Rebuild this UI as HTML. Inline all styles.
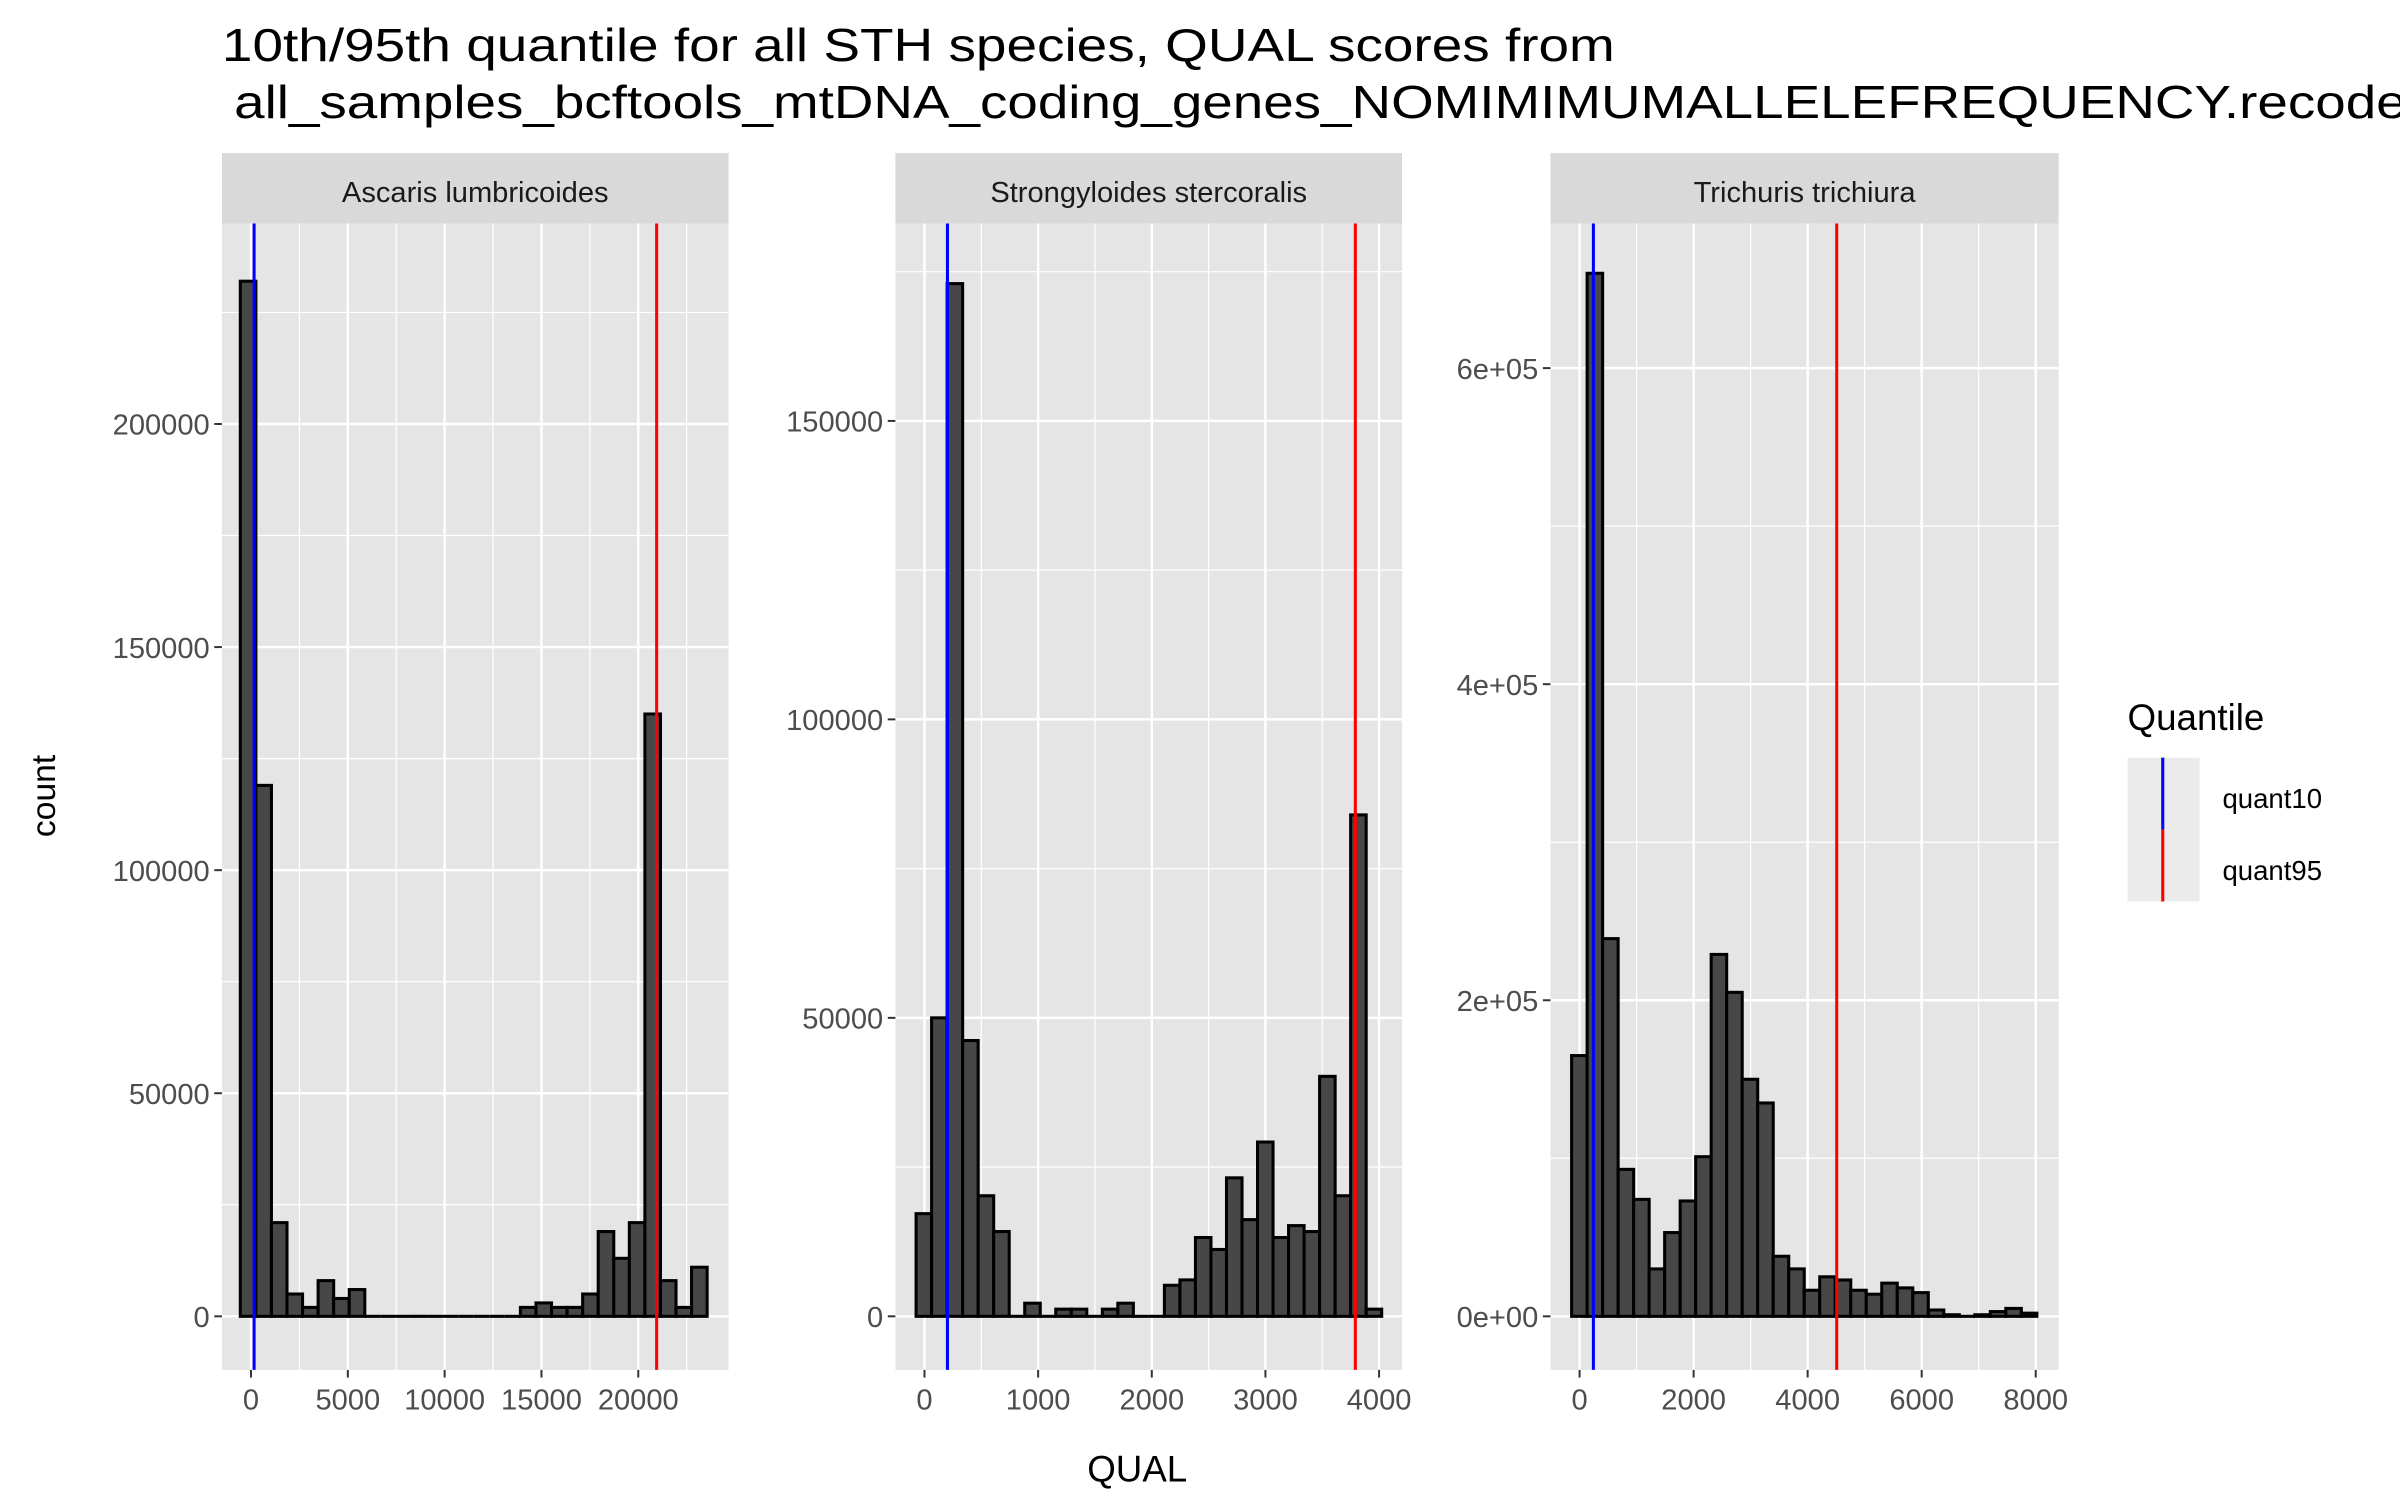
<!DOCTYPE html>
<html><head><meta charset="utf-8"><style>
html,body{margin:0;padding:0;background:#fff;}
svg{display:block;font-family:"Liberation Sans",Arial,sans-serif;}
</style></head>
<body>
<svg id="chart" width="2400" height="1500" viewBox="0 0 1568 980" preserveAspectRatio="none" xmlns="http://www.w3.org/2000/svg">
<text x="145" y="40" font-size="30" fill="#000" textLength="910" lengthAdjust="spacingAndGlyphs">10th/95th quantile for all STH species, QUAL scores from</text>
<text x="153" y="77" font-size="30" fill="#000" textLength="1475" lengthAdjust="spacingAndGlyphs">all_samples_bcftools_mtDNA_coding_genes_NOMIMIMUMALLELEFREQUENCY.recode.vcf</text>
<g id="panels"></g>
<text transform="translate(36,520) rotate(-90)" text-anchor="middle" font-size="22" fill="#000">count</text>
<text x="743" y="968" text-anchor="middle" font-size="24" fill="#000">QUAL</text>
<g>
<text x="1390" y="477" font-size="24" fill="#000">Quantile</text>
<rect x="1390" y="495" width="47" height="47" fill="#ebebeb"/>
<rect x="1390" y="542" width="47" height="47" fill="#ebebeb"/>
<line x1="1413" y1="495" x2="1413" y2="542" stroke="#0000ff" stroke-width="2"/>
<line x1="1413" y1="542" x2="1413" y2="589" stroke="#ff0000" stroke-width="2"/>
<text x="1452" y="528" font-size="18" fill="#000">quant10</text>
<text x="1452" y="575" font-size="18" fill="#000">quant95</text>
</g>
</svg>
<script>
const speciesNames = ["Ascaris lumbricoides", "Strongyloides stercoralis", "Trichuris trichiura"];
const ascarisCounts = [232000,119000,21000,5000,2000,8000,4000,6000,0,0,0,0,0,0,0,0,0,0,2000,3000,2000,2000,5000,19000,13000,21000,135000,8000,2000,11000];
const strongyCounts = [17200,50000,173000,46200,20200,14200,0,2200,0,1200,1200,0,1200,2200,0,0,5200,6100,13200,11200,23200,16200,29200,13200,15200,14200,40200,20200,84000,1200];
const trichurisCounts = [165000,660000,239000,93000,74000,30000,53000,73000,101000,229000,205000,150000,135000,38000,30000,16500,25000,23000,16500,14000,21000,18000,15000,4000,1000,300,1000,3000,5000,2000];
const binStarts = [-553, -74, -140];
const binEnds = [23557, 4023, 8020];
const quant10 = [158, 202, 242];
const quant95 = [20949, 3791, 4510];
const xTicksA = [0,5000,10000,15000,20000];
const xTicksS = [0,1000,2000,3000,4000];
const xTicksT = [0,2000,4000,6000,8000];
const yTicksA = [0,50000,100000,150000,200000];
const yTicksS = [0,50000,100000,150000];
const yTicksT = [0,200000,400000,600000];
const yTickLabelsT = ["0e+00","2e+05","4e+05","6e+05"];

const NS = "http://www.w3.org/2000/svg";
const root = document.getElementById("panels");
function mk(tag, attrs, parent){const e=document.createElementNS(NS,tag);for(const k in attrs)e.setAttribute(k,attrs[k]);(parent||root).appendChild(e);return e;}

const layouts = [
 {left:145,right:476,x0px:164,xUnit:5000,xUnitPx:63.25,yUnit:50000,yUnitPx:145.75},
 {left:585,right:916,x0px:604,xUnit:1000,xUnitPx:74.25,yUnit:50000,yUnitPx:195},
 {left:1013,right:1345,x0px:1032,xUnit:2000,xUnitPx:74.5,yUnit:200000,yUnitPx:206.5}
];
const allCounts=[ascarisCounts,strongyCounts,trichurisCounts];
const allXT=[xTicksA,xTicksS,xTicksT];
const allYT=[yTicksA,yTicksS,yTicksT];
const TOP=146, BOT=895, ZERO=860;

layouts.forEach((L,i)=>{
  const g=mk("g",{});
  
  
  const xs=v=>L.x0px+v/L.xUnit*L.xUnitPx;
  const ys=v=>ZERO-v/L.yUnit*L.yUnitPx;
  const strip=mk("rect",{x:L.left,y:100,width:L.right-L.left,height:TOP-100,fill:"#d9d9d9"},g);
  
  
  const st=mk("text",{x:(L.left+L.right)/2,y:132,"text-anchor":"middle","font-size":"19",fill:"#1a1a1a"},g);
  st.textContent=speciesNames[i];
  
  
  const bg=mk("rect",{x:L.left,y:TOP,width:L.right-L.left,height:BOT-TOP,fill:"#e5e5e5"},g);
  
  
  const xt=allXT[i], yt=allYT[i];
  const xstep=xt[1]-xt[0], ystep=yt[1]-yt[0];
  for(let v=xt[0]-xstep/2; v<=xt[xt.length-1]+xstep; v+=xstep){const p=xs(v); if(p>L.left&&p<L.right) mk("line",{x1:p,x2:p,y1:TOP,y2:BOT,stroke:"#fff","stroke-width":0.8},g);}
  for(let v=ystep/2; ; v+=ystep){const p=ys(v); if(p<TOP) break; mk("line",{x1:L.left,x2:L.right,y1:p,y2:p,stroke:"#fff","stroke-width":0.8},g);}
  for(let v=-ystep/2;;v-=ystep){const p=ys(v); if(p>BOT) break; mk("line",{x1:L.left,x2:L.right,y1:p,y2:p,stroke:"#fff","stroke-width":0.8},g);}
  xt.forEach(v=>{const p=xs(v);
    mk("line",{x1:p,x2:p,y1:TOP,y2:BOT,stroke:"#fff","stroke-width":1.6},g);
    mk("line",{x1:p,x2:p,y1:BOT,y2:BOT+5,stroke:"#333","stroke-width":1.3},g);
    const t=mk("text",{x:p,y:BOT+26,"text-anchor":"middle","font-size":"19",fill:"#4d4d4d"},g);
    t.textContent=String(v);
    
    
  });
  yt.forEach((v,k)=>{const p=ys(v);
    mk("line",{x1:L.left,x2:L.right,y1:p,y2:p,stroke:"#fff","stroke-width":1.6},g);
    mk("line",{x1:L.left-5,x2:L.left,y1:p,y2:p,stroke:"#333","stroke-width":1.3},g);
    const t=mk("text",{x:L.left-8,y:p+7,"text-anchor":"end","font-size":"19",fill:"#4d4d4d"},g);
    t.textContent = i===2 ? yTickLabelsT[k] : String(v);
    
    
  });
  const counts=allCounts[i];
  const bw=(binEnds[i]-binStarts[i])/counts.length;
  counts.forEach((c,k)=>{
    const x1=xs(binStarts[i]+k*bw), x2=xs(binStarts[i]+(k+1)*bw);
    let r;
    if(ys(c) > ZERO-0.5){
      r=mk("line",{x1:x1,x2:x2,y1:ZERO,y2:ZERO,stroke:"#000","stroke-width":2},g);
    } else {
      r=mk("rect",{x:x1,y:ys(c),width:x2-x1,height:ZERO-ys(c),fill:"#474747",stroke:"#000","stroke-width":2},g);
    }
    
    
  });
  const q1=mk("line",{x1:xs(quant10[i]),x2:xs(quant10[i]),y1:TOP,y2:BOT,stroke:"#0000ff","stroke-width":2},g);
  
  
  const q2=mk("line",{x1:xs(quant95[i]),x2:xs(quant95[i]),y1:TOP,y2:BOT,stroke:"#ff0000","stroke-width":2},g);
  
  
});
</script>
</body></html>
